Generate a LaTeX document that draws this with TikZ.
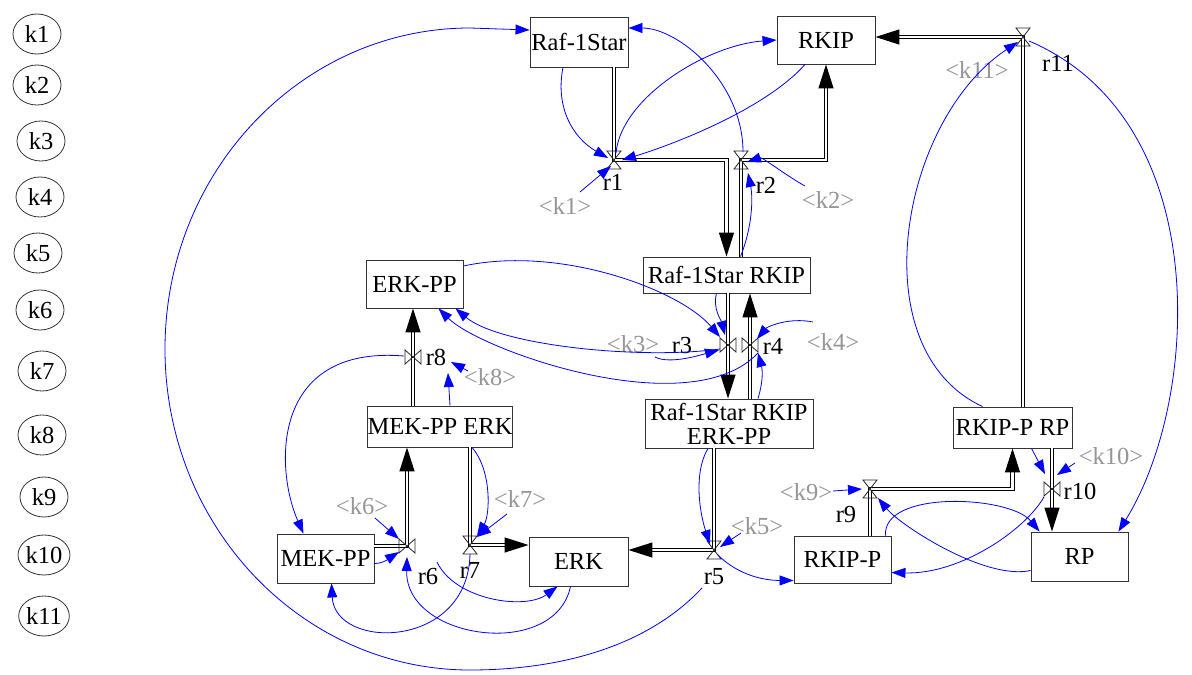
\documentclass[tikz,border=0pt]{standalone}
\usepackage{fontspec}
\setmainfont{Liberation Serif}
\usetikzlibrary{arrows.meta,shapes.geometric,calc}
\definecolor{kgray}{RGB}{150,150,150}
\tikzset{
  pics/vvalve/.style={code={\draw[valve] (-7,-9) -- (7,-9) -- (0,0) -- cycle (0,0) -- (-7,9) -- (7,9) -- cycle;}},
  pics/hvalve/.style={code={\draw[valve] (-8,-7) -- (-8,7) -- (0,0) -- cycle (0,0) -- (8,-7) -- (8,7) -- cycle;}},
}
\begin{document}
\begin{tikzpicture}[x=1pt,y=-1pt,
  every node/.style={font=\fontsize{24.5}{27}\selectfont},
  species/.style={draw=black!80, line width=0.9pt, rectangle, inner sep=0pt, align=center},
  param/.style={draw=black!80, ellipse, line width=0.8pt, minimum width=48pt, minimum height=40pt, inner sep=0pt},
  klab/.style={text=kgray, inner sep=1pt},
  rlab/.style={inner sep=1pt},
  flow/.style={draw=black, line width=1.1pt, double=white, double distance=2.4pt},
  flowend/.style={flow, -{Triangle[length=24pt,width=15pt]}},
  link/.style={draw=blue, line width=0.8pt, -{Triangle[length=14pt,width=10pt]}},
  valve/.style={draw=black!85, line width=0.8pt},
]
\fill[white] (0,0) rectangle (1192,675);
\useasboundingbox (0,0) rectangle (1192,675);

% parameters
\node[param] (k1) at (37,34) {k1};
\node[param] (k2) at (37,85) {k2};
\node[param] (k3) at (41,141) {k3};
\node[param] (k4) at (40,197) {k4};
\node[param] (k5) at (38,253) {k5};
\node[param] (k6) at (40,310) {k6};
\node[param] (k7) at (42,371) {k7};
\node[param] (k8) at (42,435) {k8};
\node[param] (k9) at (44,497) {k9};
\node[param] (k10) at (44,555) {k10};
\node[param] (k11) at (44,616) {k11};

% species
\node[species, minimum width=98pt, minimum height=50pt] (raf) at (579,42) {Raf-1Star};
\node[species, minimum width=98pt, minimum height=48pt] (rkip) at (826,40) {RKIP};
\node[species, minimum width=167pt, minimum height=36pt] (rr) at (726.5,275) {Raf-1Star RKIP};
\node[species, minimum width=97pt, minimum height=48pt] (erkpp) at (414.5,284) {ERK-PP};
\node[species, minimum width=143pt, minimum height=41pt] (mekerk) at (440,426.5) {MEK-PP ERK};
\node[species, minimum width=168pt, minimum height=49pt, font=\fontsize{24.5}{24}\selectfont] (rre) at (729,423.5) {Raf-1Star RKIP\\ERK-PP};
\node[species, minimum width=119pt, minimum height=41pt] (rprp) at (1012.5,427.5) {RKIP-P RP};
\node[species, minimum width=97pt, minimum height=49pt] (mekpp) at (325.5,558.5) {MEK-PP};
\node[species, minimum width=99pt, minimum height=49pt] (erk) at (578.5,561.5) {ERK};
\node[species, minimum width=97pt, minimum height=47pt] (rkipp) at (842.5,559.5) {RKIP-P};
\node[species, minimum width=97pt, minimum height=49pt] (rp) at (1079.5,556.5) {RP};

% reactions
\coordinate (r1) at (614,160);
\coordinate (r2) at (741,160);
\coordinate (r3) at (728,345);
\coordinate (r4) at (750,345);
\coordinate (r5) at (714,550);
\coordinate (r6) at (407,546);
\coordinate (r7) at (470,545);
\coordinate (r8) at (413,357);
\coordinate (r9) at (870,489);
\coordinate (r10) at (1052,489);
\coordinate (r11) at (1023,37);

% reaction labels
\node[rlab] (lr1) at (613,182) {r1};
\node[rlab] (lr2) at (766,185) {r2};
\node[rlab] (lr3) at (682,346) {r3};
\node[rlab] (lr4) at (773,346) {r4};
\node[rlab] (lr5) at (714,577) {r5};
\node[rlab] (lr6) at (428,577) {r6};
\node[rlab] (lr7) at (470,570) {r7};
\node[rlab] (lr8) at (436,357) {r8};
\node[rlab] (lr9) at (846,515) {r9};
\node[rlab] (lr10) at (1080,491) {r10};
\node[rlab] (lr11) at (1058,63) {r11};

% parameter labels
\node[klab] (kl1) at (565,206) {<k1>};
\node[klab] (kl2) at (828,200) {<k2>};
\node[klab] (kl3) at (633,344) {<k3>};
\node[klab] (kl4) at (833,342) {<k4>};
\node[klab] (kl5) at (757,526) {<k5>};
\node[klab] (kl6) at (362,506) {<k6>};
\node[klab] (kl7) at (520,499) {<k7>};
\node[klab] (kl8) at (490,377) {<k8>};
\node[klab] (kl9) at (806,492) {<k9>};
\node[klab] (kl10) at (1111,456) {<k10>};
\node[klab] (kl11) at (977,70) {<k11>};

% flows (double lines)
\draw[flowend] (r1 |- raf.south) -- (r1) -| (rr.north);
\draw[flowend] (r2 |- rr.north) -- (r2) -| (rkip.south);
\draw[flowend] (r3 |- rr.south) -- (r3 |- rre.north);
\draw[flowend] (r4 |- rre.north) -- (r4 |- rr.south);
\draw[flowend] (r5 |- rre.south) -- (r5) -- (r5 -| erk.east);
\draw[flowend] (r6 -| mekpp.east) -- (r6) -- (r6 |- mekerk.south);
\draw[flowend] (r7 |- mekerk.south) -- (r7) -- (r7 -| erk.west);
\draw[flowend] (r8 |- mekerk.north) -- (r8 |- erkpp.south);
\draw[flowend] (r9 |- rkipp.north) -- (r9) -| (rprp.south);
\draw[flowend] (r10 |- rprp.south) -- (r10 |- rp.north);
\draw[flowend] (r11 |- rprp.north) -- (r11) -- (r11 -| rkip.east);

% valves
\pic at (r1) {vvalve};
\pic at (r2) {vvalve};
\pic at (r3) {hvalve};
\pic at (r4) {hvalve};
\pic at (r5) {vvalve};
\pic at (r6) {hvalve};
\pic at (r7) {vvalve};
\pic at (r8) {hvalve};
\pic at (r9) {vvalve};
\pic at (r10) {hvalve};
\pic at (r11) {vvalve};

% blue links
\draw[link] ($(raf.south)+(-16,0)$) .. controls +(-8,40) and +(-35,-20) .. ($(r1)+(-6,-2)$);
\draw[link] ($(rkip.south)+(-21,0)$) .. controls +(-40,45) and +(50,-15) .. ($(r1)+(8,0)$);
\draw[link] ($(r1)+(2,-7)$) .. controls +(5,-55) and +(-70,5) .. (rkip.west);
\draw[link] ($(r2)+(2,-8)$) .. controls +(0,-70) and +(50,0) .. ($(raf.east)+(0,-14)$);
\draw[link] ($(kl1)+(15,-14)$) -- ($(r1)+(-3,6)$);
\draw[link] ($(kl2)+(-23,-14)$) .. controls +(-15,-8) and +(15,-5) .. ($(r2)+(6,2)$);
\draw[link] ($(rr.north)+(14,0)$) .. controls +(12,-30) and +(5,25) .. ($(r2)+(7,13)$);
\draw[link] ($(erkpp.east)+(0,-18)$) .. controls +(97,-21) and +(-40,-47) .. ($(r3)+(-8,-8)$);
\draw[link] ($(rr.south)+(-10,0)$) .. controls +(-4,15) and +(-4,-15) .. ($(r3)+(-3,-10)$);
\draw[link] ($(kl3)+(22,13)$) .. controls +(15,8) and +(-15,4) .. ($(r3)+(-9,5)$);
\draw[link] ($(r3)+(-8,4)$) .. controls +(-80,11) and +(44,37) .. ($(erkpp.south)+(41,0)$);
\draw[link] ($(r4)+(8,8)$) .. controls +(-68,72) and +(42,42) .. ($(erkpp.south)+(24,0)$);
\draw[link] ($(kl4)+(-20,-20)$) .. controls +(-25,-5) and +(10,-12) .. ($(r4)+(7,-6)$);
\draw[link] ($(rre.north)+(29,0)$) .. controls +(6,-20) and +(4,15) .. ($(r4)+(8,8)$);
\draw[link] ($(rre.south)+(-21,0)$) .. controls +(-15,25) and +(-10,-30) .. ($(r5)+(-4,-6)$);
\draw[link] ($(kl5)+(-16,7)$) -- ($(r5)+(6,-3)$);
\draw[link] ($(r5)+(4,5)$) .. controls +(20,20) and +(-30,0) .. ($(rkipp.south west)+(0,-3)$);
\draw[link] ($(r5)+(-12,38)$) .. controls (644,650) and (553,670) .. (470,670)
   .. controls (301.6,670) and (165,526.3) .. (165,349)
   .. controls (165,171.7) and (301.5,28) .. (470,28) -- ($(raf.west)+(0,-12)$);
\draw[link] ($(rkipp.north east)+(-6,0)$) .. controls +(-3,-46) and +(-30,-36) .. ($(rp.north west)+(9,0)$);
\draw[link] ($(rp.west)+(0,14)$) .. controls +(-46,10) and +(22,27) .. ($(r9)+(8,9)$);
\draw[link] ($(kl9)+(27,-1)$) -- ($(r9)+(-8,0)$);
\draw[link] ($(rprp.south)+(19,0)$) -- ($(r10)+(-7,-15)$);
\draw[link] ($(kl10)+(-36,7)$) -- ($(r10)+(5,-14)$);
\draw[link] ($(r10)+(-8,8)$) .. controls +(-19,33) and +(69,2) .. ($(rkipp.east)+(0,13)$);
\draw[link] ($(rprp.north west)+(30,0)$) .. controls +(-123,-57) and +(-118,78) .. ($(r11)+(-5,5)$);
\draw[link] ($(r11)+(6,4)$) .. controls +(186,79) and +(82,-132) .. ($(rp.north east)+(-10,0)$);
\draw[link] ($(r8)+(-9,-1)$) .. controls +(-134,-11) and +(-28.5,-64) .. ($(mekpp.north)+(-22,0)$);
\draw[link] ($(mekerk.north)+(10,0)$) -- ($(r8)+(35,16)$);
\draw[link] ($(kl8)+(-22,-6)$) -- ($(r8)+(38,5)$);
\draw[link] ($(mekpp.east)+(0,5)$) .. controls +(10,0) and +(-8,5) .. ($(r6)+(-8,6)$);
\draw[link] ($(kl6)+(13,12)$) -- ($(r6)+(-8,-7)$);
\draw[link] ($(erk.south)+(-8,0)$) .. controls +(-15.5,74) and +(-2,83) .. ($(r6)+(0,11)$);
\draw[link] ($(r7)+(0,9)$) .. controls +(-2,96) and +(3.5,67) .. ($(mekpp.south)+(6,0)$);
\coordinate (c34) at ($(r6)+(30,16)$);
\draw[link] (c34) .. controls +(18,38) and +(-32.5,24) .. ($(erk.south)+(-21,0)$);
\draw[link] ($(mekerk.south)+(32,0)$) .. controls +(20,23) and +(13,-21) .. ($(r7)+(7,-9)$);
\draw[link] ($(kl7)+(-13,15)$) -- ($(r7)+(7,-8)$);
\end{tikzpicture}
\end{document}
